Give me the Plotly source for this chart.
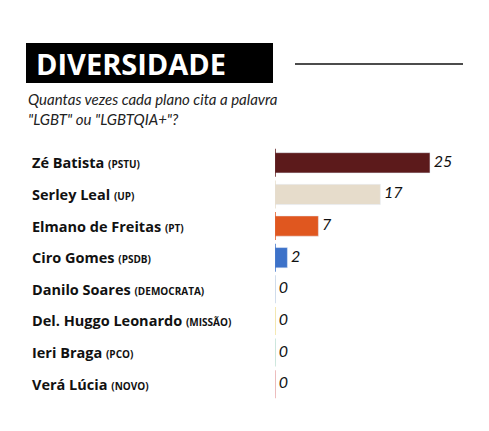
import plotly.graph_objects as go

names = ["Zé Batista", "Serley Leal", "Elmano de Freitas", "Ciro Gomes",
         "Danilo Soares", "Del. Huggo Leonardo", "Ieri Braga", "Verá Lúcia"]
parties = ["PSTU", "UP", "PT", "PSDB", "DEMOCRATA", "MISSÃO", "PCO", "NOVO"]
values = [25, 17, 7, 2, 0, 0, 0, 0]
colors = ["#5c1a1b", "#e6dccb", "#e0571f", "#3d72c9",
          "#c5d3e6", "#f2e29a", "#bfe0d3", "#e8a9a9"]

W, H, L, R, T, B = 489, 431, 267, 10, 139, 39
xmax = 34.2
pw, ph = W - L - R, H - T - B


def px(x):
    return (x - L) / pw


def py(y):
    return (H - B - y) / ph


fig = go.Figure()
fig.add_trace(go.Bar(y=names, x=values, orientation="h", marker_color=colors,
                     width=0.64, hoverinfo="skip"))
fig.add_trace(go.Scatter(y=names, x=[0] * len(names), mode="markers",
                         marker=dict(symbol="line-ns", size=20,
                                     line=dict(color=colors, width=1.5)),
                         hoverinfo="skip"))
fig.add_trace(go.Scatter(y=names, x=[v + 0.6 for v in values], mode="text",
                         text=[str(v) for v in values], textposition="middle right",
                         textfont=dict(size=16, color="#111", family="Lato", style="italic"),
                         hoverinfo="skip"))

for n, p in zip(names, parties):
    fig.add_annotation(x=px(22), xref="paper", y=n, yref="y", xanchor="left", yanchor="middle",
                       showarrow=False,
                       text=f"<b>{n}</b> <span style='font-size:10px'><b>({p})</b></span>",
                       font=dict(size=14.5, family="Open Sans", color="#111"))

fig.add_shape(type="rect", xref="paper", yref="paper",
              x0=px(18), x1=px(265), y0=py(75), y1=py(35),
              fillcolor="black", line_width=0)
fig.add_annotation(x=px(26), xref="paper", y=py(56), yref="paper",
                   xanchor="left", yanchor="middle", showarrow=False, text="<b>DIVERSIDADE</b>",
                   font=dict(size=29, family="Open Sans", color="white"))
fig.add_shape(type="line", xref="paper", yref="paper",
              x0=px(287), x1=px(455), y0=py(56), y1=py(56),
              line=dict(color="#111", width=1.5))
fig.add_annotation(x=px(18), xref="paper", y=py(101), yref="paper",
                   xanchor="left", yanchor="middle", align="left", showarrow=False,
                   text="<i>Quantas vezes cada plano cita a palavra<br>\"LGBT\" ou \"LGBTQIA+\"?</i>",
                   font=dict(size=15, family="Lato", color="#222"))

fig.update_layout(width=W, height=H, margin=dict(l=L, r=R, t=T, b=B, autoexpand=False),
                  plot_bgcolor="white", paper_bgcolor="white", showlegend=False,
                  xaxis=dict(range=[0, xmax], visible=False),
                  yaxis=dict(range=[7.5, -0.5], visible=False))
fig.write_html("out.html")
